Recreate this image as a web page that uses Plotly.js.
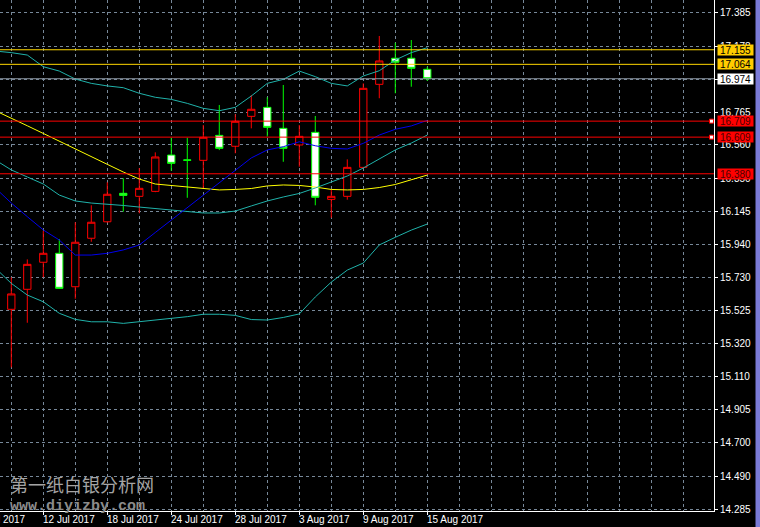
<!DOCTYPE html>
<html>
<head>
<meta charset="utf-8">
<script src="https://cdn.plot.ly/plotly-3.0.1.min.js"></script>
<style>
html,body{margin:0;padding:0;background:#000;}
#chart{width:760px;height:527px;}
</style>
</head>
<body>
<div id="chart"></div>
<script>
// ---- data (XAGUSD daily, MT4 style) ----
const dates = ["7 Jul 2017","10 Jul 2017","11 Jul 2017","12 Jul 2017","13 Jul 2017","14 Jul 2017",
  "17 Jul 2017","18 Jul 2017","19 Jul 2017","20 Jul 2017","21 Jul 2017",
  "24 Jul 2017","25 Jul 2017","26 Jul 2017","27 Jul 2017","28 Jul 2017",
  "31 Jul 2017","1 Aug 2017","2 Aug 2017","3 Aug 2017","4 Aug 2017",
  "7 Aug 2017","8 Aug 2017","9 Aug 2017","10 Aug 2017","11 Aug 2017",
  "14 Aug 2017","15 Aug 2017"];
const openP  = [16.047,15.533,15.658,15.827,15.883,15.674,15.977,16.080,16.258,16.239,16.270,16.497,16.467,16.464,16.620,16.552,16.739,16.795,16.664,16.560,16.639,16.220,16.239,16.420,16.939,17.102,17.102,17.033];
const highP  = [16.080,15.733,15.845,16.024,15.972,16.077,16.183,16.327,16.352,16.416,16.514,16.605,16.605,16.685,16.810,16.752,16.872,16.858,16.935,16.685,16.741,16.285,16.470,16.945,17.241,17.199,17.216,17.049];
const lowP   = [15.520,15.170,15.449,15.733,15.660,15.599,15.955,16.075,16.143,16.133,16.265,16.399,16.230,16.285,16.528,16.508,16.664,16.612,16.455,16.424,16.183,16.105,16.218,16.415,16.852,16.883,16.924,16.960];
const closeP = [15.560,15.629,15.814,15.883,15.664,15.952,16.077,16.252,16.245,16.289,16.485,16.445,16.464,16.608,16.539,16.708,16.783,16.670,16.539,16.614,16.233,16.239,16.420,16.914,17.085,17.077,17.039,16.974];

const bbUpper  = [17.147,17.137,17.122,17.049,17.022,16.972,16.945,16.929,16.918,16.883,16.858,16.845,16.820,16.789,16.774,16.795,16.866,16.945,16.970,17.022,16.987,16.945,16.929,16.991,17.024,17.091,17.137,17.168];
const bbMiddle = [16.466,16.404,16.360,16.316,16.247,16.210,16.197,16.191,16.182,16.172,16.163,16.154,16.144,16.135,16.135,16.147,16.179,16.210,16.235,16.257,16.291,16.329,16.366,16.416,16.472,16.529,16.572,16.622];
const bbLower  = [15.791,15.695,15.622,15.580,15.508,15.470,15.455,15.455,15.445,15.455,15.466,15.477,15.487,15.502,15.502,15.495,15.469,15.466,15.482,15.504,15.610,15.703,15.778,15.822,15.935,15.983,16.028,16.066];
const maBlue   = [16.291,16.197,16.112,16.029,15.966,15.872,15.872,15.883,15.904,15.935,16.013,16.091,16.169,16.247,16.325,16.404,16.479,16.529,16.549,16.580,16.555,16.539,16.535,16.570,16.622,16.658,16.679,16.714];
const maYellow = [16.774,16.729,16.680,16.632,16.585,16.535,16.487,16.439,16.391,16.347,16.316,16.307,16.297,16.288,16.279,16.282,16.288,16.304,16.310,16.307,16.297,16.282,16.279,16.282,16.294,16.313,16.341,16.372];

const goldLevels = [17.155, 17.064];
const bidLevel = 16.974;
const redLevels = [16.709, 16.609, 16.380];
const alertLevels = [16.709, 16.609];

const yTickVals  = [17.385,17.178,16.972,16.765,16.560,16.350,16.145,15.940,15.730,15.525,15.320,15.110,14.905,14.700,14.490,14.285];
const yTickTexts = ["17.385","17.178","","16.765","16.560","16.350","16.145","15.940","15.730","15.525","15.320","15.110","14.905","14.700","14.490","14.285"];
const xLabelDates = ["12 Jul 2017","18 Jul 2017","24 Jul 2017","28 Jul 2017","3 Aug 2017","9 Aug 2017","15 Aug 2017"];
const offLeftLabel = "6 Jul 2017";

// ---- build ----
const xIdx = dates.map((d, i) => i);
const xRange = [0.294, 44.92];
const yRange = [14.2725, 17.466];
const GRID = '#778899';
const FONT = '"Liberation Sans Narrow", "Liberation Sans", Arial, sans-serif';
const FS = 10;

const traces = [
  {
    type: 'candlestick', x: xIdx, open: openP, high: highP, low: lowP, close: closeP,
    increasing: {line: {color: '#ff0000', width: 1}, fillcolor: '#000000'},
    decreasing: {line: {color: '#00ff00', width: 1}, fillcolor: '#ffffff'},
    whiskerwidth: 0, showlegend: false, hoverinfo: 'skip'
  },
  {type: 'scatter', mode: 'lines', x: xIdx, y: maYellow, line: {color: '#ffff00', width: 1}, hoverinfo: 'skip', showlegend: false},
  {type: 'scatter', mode: 'lines', x: xIdx, y: bbUpper, line: {color: '#20b2aa', width: 1}, hoverinfo: 'skip', showlegend: false},
  {type: 'scatter', mode: 'lines', x: xIdx, y: bbMiddle, line: {color: '#20b2aa', width: 1}, hoverinfo: 'skip', showlegend: false},
  {type: 'scatter', mode: 'lines', x: xIdx, y: bbLower, line: {color: '#20b2aa', width: 1}, hoverinfo: 'skip', showlegend: false},
  {type: 'scatter', mode: 'lines', x: xIdx, y: maBlue, line: {color: '#0000ee', width: 1}, hoverinfo: 'skip', showlegend: false}
];

const shapes = [];
goldLevels.forEach(v => shapes.push({type: 'line', xref: 'paper', x0: 0, x1: 1, yref: 'y', y0: v, y1: v, line: {color: '#ffd700', width: 1}, layer: 'above'}));
shapes.push({type: 'line', xref: 'paper', x0: 0, x1: 1, yref: 'y', y0: bidLevel, y1: bidLevel, line: {color: '#8c97a3', width: 1}, layer: 'above'});
redLevels.forEach(v => shapes.push({type: 'line', xref: 'paper', x0: 0, x1: 1, yref: 'y', y0: v, y1: v, line: {color: '#ff0000', width: 1}, layer: 'above'}));
alertLevels.forEach(v => shapes.push({type: 'rect', xref: 'paper', xsizemode: 'pixel', xanchor: 1, x0: -4.5, x1: -0.5,
  yref: 'y', ysizemode: 'pixel', yanchor: v, y0: -2, y1: 2, fillcolor: '#ffffff', line: {color: '#ff0000', width: 1}, layer: 'above'}));
// window border strip on the right
shapes.push({type: 'rect', xref: 'paper', yref: 'paper', x0: 755.5/714, x1: 762/714, y0: -0.05, y1: 1.01, fillcolor: '#7a7ad6', line: {width: 0}, layer: 'above'});

function priceBox(v, bg, fg) {
  return {xref: 'paper', x: 1, xanchor: 'left', xshift: 3, yref: 'y', y: v, yanchor: 'middle',
    text: v.toFixed(3), showarrow: false, bgcolor: bg, borderpad: 0, width: 35, height: 10,
    font: {family: FONT, size: FS, color: fg}, align: 'center'};
}
const annotations = [];
goldLevels.forEach(v => annotations.push(priceBox(v, '#ffcc00', '#000000')));
annotations.push(priceBox(bidLevel, '#ffffff', '#000000'));
redLevels.forEach(v => annotations.push(priceBox(v, '#ff0000', '#4a0000')));

// date labels, left-aligned at their ticks (MT4 style)
function dateLabel(text, xref, x) {
  return {xref: xref, x: x, xanchor: 'left', xshift: -1, yref: 'paper', y: 0, yanchor: 'top', yshift: -2,
    text: text, showarrow: false, borderpad: 0, font: {family: FONT, size: FS, color: '#ffffff'}};
}
xLabelDates.forEach(d => annotations.push(dateLabel(d, 'x', dates.indexOf(d))));
annotations.push(dateLabel(offLeftLabel, 'paper', (dates.indexOf(dates[0]) - 1 - xRange[0]) / (xRange[1] - xRange[0])));

// watermark
annotations.push({xref: 'paper', yref: 'paper', x: 8/714, y: 1 - 484/511, xanchor: 'left', yanchor: 'middle',
  text: '第一纸白银分析网', showarrow: false, font: {family: '"Noto Sans CJK SC", sans-serif', size: 18, color: '#a4a4a4'}});
annotations.push({xref: 'paper', yref: 'paper', x: 8/714, y: 1 - 506/511, xanchor: 'left', yanchor: 'middle',
  text: 'www.diyizby.com', showarrow: false, font: {family: '"Liberation Mono", monospace', size: 15, weight: 'bold', color: '#8c8c8c'}});

const layout = {
  width: 760, height: 527,
  margin: {l: 0, r: 46, t: 0, b: 16, pad: 0},
  paper_bgcolor: '#000000', plot_bgcolor: '#000000',
  hovermode: false, showlegend: false,
  boxgap: 0.35,
  xaxis: {
    type: 'linear', range: xRange, autorange: false, fixedrange: true,
    rangeslider: {visible: false},
    tickmode: 'array', tickvals: xLabelDates.map(d => dates.indexOf(d)),
    ticks: 'outside', ticklen: 3, tickcolor: '#ffffff', showticklabels: false,
    showline: true, linecolor: '#ffffff', linewidth: 1,
    showgrid: true, gridcolor: GRID, gridwidth: 1, griddash: '3px,3px',
    minor: {tick0: 1, dtick: 2, showgrid: true, gridcolor: GRID, gridwidth: 1, griddash: '3px,3px', ticks: ''},
    zeroline: false
  },
  yaxis: {
    side: 'right', range: yRange, autorange: false, fixedrange: true,
    tickmode: 'array', tickvals: yTickVals, ticktext: yTickTexts,
    ticks: 'outside', ticklen: 3, tickcolor: '#ffffff',
    tickfont: {family: FONT, size: FS, color: '#ffffff'},
    showline: true, linecolor: '#ffffff', linewidth: 1,
    showgrid: true, gridcolor: GRID, gridwidth: 1, griddash: '3px,3px',
    zeroline: false
  },
  shapes: shapes,
  annotations: annotations
};

Plotly.newPlot('chart', traces, layout, {displayModeBar: false, staticPlot: true});
</script>
</body>
</html>
